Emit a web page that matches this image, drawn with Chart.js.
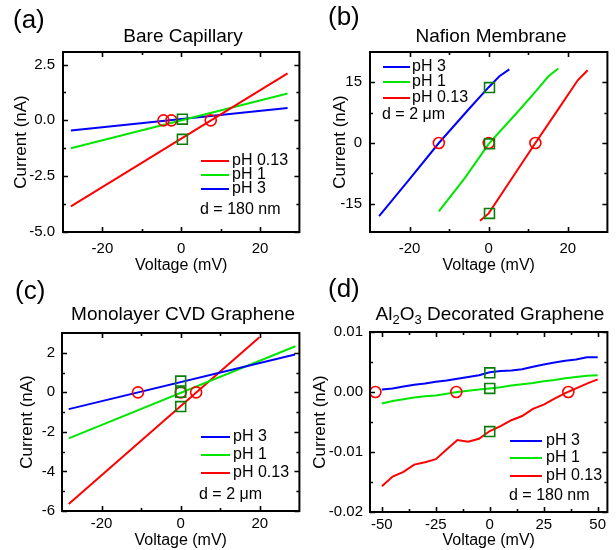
<!DOCTYPE html>
<html><head><meta charset="utf-8">
<script src="https://cdn.jsdelivr.net/npm/chart.js@4.4.1/dist/chart.umd.min.js"></script>
<style>
html,body{margin:0;padding:0;background:#fff;}
body{width:616px;height:550px;position:relative;overflow:hidden;}
canvas{position:absolute;}
</style></head>
<body>
<canvas id="ca" width="308" height="275" style="left:0;top:0"></canvas>
<canvas id="cb" width="308" height="275" style="left:308px;top:0"></canvas>
<canvas id="cc" width="308" height="275" style="left:0;top:275px"></canvas>
<canvas id="cd" width="308" height="275" style="left:308px;top:275px"></canvas>
<script>
// ---------- (a) Bare Capillary ----------
const aVoltRed = [-28, 27];
const aCurRed = [-3.85, 2.1];
const aVoltGreen = [-28, 27];
const aCurGreen = [-1.25, 1.2];
const aVoltBlue = [-28, 27];
const aCurBlue = [-0.45, 0.55];
const aCircleV = [-4.5, -2.5, 7.5];
const aCircleI = [0, 0, 0];
const aSquareV = [0.3, 0.3];
const aSquareI = [0.05, -0.85];
const aXTicks = [-20, 0, 20];
const aXLabels = ['-20', '0', '20'];
const aXMinor = [-10, 10];
const aYTicks = [-5, -2.5, 0, 2.5];
const aYLabels = ['-5.0', '-2.5', '0.0', '2.5'];
const aYMinor = [-3.75, -1.25, 1.25];

// ---------- (b) Nafion Membrane ----------
const bVoltBlue = [-27.7, -20, -12.6, -5, 0, 2.7, 5.2];
const bCurBlue = [-18.1, -8.9, 0, 8.4, 13.8, 16.5, 18.2];
const bVoltGreen = [-12.6, -6, 0, 7.7, 12, 15.1, 17.6];
const bCurGreen = [-16.9, -8.6, -0.2, 8.1, 12.9, 16.5, 18.4];
const bVoltRed = [-2.2, 0, 5, 11.8, 17, 22.5, 25];
const bCurRed = [-19.2, -17.4, -10.0, 0, 7.5, 15.5, 18];
const bCircleV = [-12.6, 0, 11.8];
const bCircleI = [0, 0, 0];
const bSquareV = [0.2, 0.2, 0.2];
const bSquareI = [13.7, -0.2, -17.4];
const bXTicks = [-20, 0, 20];
const bXLabels = ['-20', '0', '20'];
const bXMinor = [-10, 10];
const bYTicks = [-15, 0, 15];
const bYLabels = ['-15', '0', '15'];
const bYMinor = [-7.5, 7.5];

// ---------- (c) Monolayer CVD Graphene ----------
const cVoltBlue = [-28.3, 28.9];
const cCurBlue = [-0.85, 1.91];
const cVoltGreen = [-28.3, 29];
const cCurGreen = [-2.33, 2.33];
const cVoltRed = [-28.3, 19.9];
const cCurRed = [-5.65, 2.79];
const cCircleV = [-10.8, 0, 3.9];
const cCircleI = [0, 0, 0];
const cSquareV = [0, 0, 0];
const cSquareI = [0.57, 0, -0.72];
const cXTicks = [-20, 0, 20];
const cXLabels = ['-20', '0', '20'];
const cXMinor = [-10, 10];
const cYTicks = [-6, -4, -2, 0, 2];
const cYLabels = ['-6', '-4', '-2', '0', '2'];
const cYMinor = [-5, -3, -1, 1];

// ---------- (d) Al2O3 Decorated Graphene ----------
const dVolt = [-50, -45, -40, -35, -30, -25, -20, -15, -10, -5, 0, 5, 10, 15, 20, 25, 30, 35, 40, 45, 50];
const dCurBlue = [0.0004, 0.0006, 0.0009, 0.0012, 0.0014, 0.0017, 0.0019, 0.0022, 0.0025, 0.0028, 0.0033, 0.0035, 0.0036, 0.0038, 0.0042, 0.0046, 0.0049, 0.0052, 0.0054, 0.0058, 0.0058];
const dCurGreen = [-0.0019, -0.0015, -0.0012, -0.0009, -0.0007, -0.0006, -0.0003, 0.0000, 0.0002, 0.0004, 0.0006, 0.0008, 0.0011, 0.0013, 0.0015, 0.0018, 0.0020, 0.0023, 0.0025, 0.0027, 0.0028];
const dCurRed = [-0.0157, -0.0141, -0.0133, -0.0121, -0.0117, -0.0112, -0.0096, -0.0080, -0.0083, -0.0078, -0.0065, -0.0057, -0.0047, -0.0040, -0.0028, -0.0021, -0.0011, -0.0002, 0.0006, 0.0014, 0.0021];
const dCircleV = [-53, -15.5, 36.4];
const dCircleI = [0, 0, 0];
const dSquareV = [0, 0, 0];
const dSquareI = [0.0032, 0.0006, -0.0066];
const dXTicks = [-50, -25, 0, 25, 50];
const dXLabels = ['-50', '-25', '0', '25', '50'];
const dXMinor = [-37.5, -12.5, 12.5, 37.5];
const dYTicks = [-0.02, -0.01, 0, 0.01];
const dYLabels = ['-0.02', '-0.01', '0.00', '0.01'];
const dYMinor = [-0.015, -0.005, 0.005];

const RED = '#ff0000', GREEN = '#00e600', BLUE = '#0000ff', MARK = '#0a7d0a';
const FONT = "'Liberation Sans', Arial, Helvetica, sans-serif";
Chart.defaults.font.family = FONT;
Chart.defaults.color = '#000';

function pts(v, i) { return v.map((x, k) => ({ x: x, y: i[k] })); }

const panels = [
  { id: 'ca', tag: '(a)', title: [{ t: 'Bare Capillary' }],
    series: [
      { label: 'pH 0.13', color: RED, v: aVoltRed, i: aCurRed },
      { label: 'pH 1', color: GREEN, v: aVoltGreen, i: aCurGreen },
      { label: 'pH 3', color: BLUE, v: aVoltBlue, i: aCurBlue }],
    circ: [aCircleV, aCircleI], sq: [aSquareV, aSquareI],
    xr: [-30, 30], yr: [-5, 3.06],
    xT: aXTicks, xL: aXLabels, xM: aXMinor, yT: aYTicks, yL: aYLabels, yM: aYMinor,
    note: 'd = 180 nm',
    L: { yW: 63, xH: 43, top: 52, right: 2, yPad: 8, xPad: 8, xTitlePad: 6, yTitlePad: 11,
         tagX: 13, tagY: 21, titleX: 183, titleY: 37,
         legX0: 201, legX1: 229, legTX: 232, legY: [161, 175, 189], noteX: 200, noteY: 210 } },
  { id: 'cb', tag: '(b)', title: [{ t: 'Nafion Membrane' }],
    series: [
      { label: 'pH 3', color: BLUE, v: bVoltBlue, i: bCurBlue },
      { label: 'pH 1', color: GREEN, v: bVoltGreen, i: bCurGreen },
      { label: 'pH 0.13', color: RED, v: bVoltRed, i: bCurRed }],
    circ: [bCircleV, bCircleI], sq: [bSquareV, bSquareI],
    xr: [-30, 30], yr: [-22, 22.5],
    xT: bXTicks, xL: bXLabels, xM: bXMinor, yT: bYTicks, yL: bYLabels, yM: bYMinor,
    note: 'd = 2 \u03bcm',
    L: { yW: 62, xH: 43, top: 52, right: 4, yPad: 8, xPad: 8, xTitlePad: 5, yTitlePad: 22,
         tagX: 20, tagY: 18, titleX: 183, titleY: 37,
         legX0: 75, legX1: 102, legTX: 104, legY: [67, 82, 98], noteX: 74, noteY: 115 } },
  { id: 'cc', tag: '(c)', title: [{ t: 'Monolayer CVD Graphene' }],
    series: [
      { label: 'pH 3', color: BLUE, v: cVoltBlue, i: cCurBlue },
      { label: 'pH 1', color: GREEN, v: cVoltGreen, i: cCurGreen },
      { label: 'pH 0.13', color: RED, v: cVoltRed, i: cCurRed }],
    circ: [cCircleV, cCircleI], sq: [cSquareV, cSquareI],
    xr: [-30, 30], yr: [-6, 3],
    xT: cXTicks, xL: cXLabels, xM: cXMinor, yT: cYTicks, yL: cYLabels, yM: cYMinor,
    note: 'd = 2 \u03bcm',
    L: { yW: 62, xH: 39, top: 58, right: 4, yPad: 7, xPad: 4, xTitlePad: 1, yTitlePad: 17,
         tagX: 15, tagY: 17, titleX: 183, titleY: 40,
         legX0: 201, legX1: 230, legTX: 233, legY: [162, 180, 198], noteX: 199, noteY: 220 } },
  { id: 'cd', tag: '(d)', title: [{ t: 'Al' }, { t: '2', sub: true }, { t: 'O' }, { t: '3', sub: true }, { t: ' Decorated Graphene' }],
    series: [
      { label: 'pH 3', color: BLUE, v: dVolt, i: dCurBlue },
      { label: 'pH 1', color: GREEN, v: dVolt, i: dCurGreen },
      { label: 'pH 0.13', color: RED, v: dVolt, i: dCurRed }],
    circ: [dCircleV, dCircleI], sq: [dSquareV, dSquareI],
    xr: [-55.5, 54.5], yr: [-0.02, 0.01],
    xT: dXTicks, xL: dXLabels, xM: dXMinor, yT: dYTicks, yL: dYLabels, yM: dYMinor,
    note: 'd = 180 nm',
    L: { yW: 62, xH: 38, top: 57, right: 4, yPad: 7, xPad: 4, xTitlePad: 0, yTitlePad: 2,
         tagX: 20, tagY: 15, titleX: 182, titleY: 40,
         legX0: 202, legX1: 234, legTX: 238, legY: [166, 183, 201], noteX: 201, noteY: 221 } }
];

function labelFor(list, labels, v) {
  for (let k = 0; k < list.length; k++) if (Math.abs(list[k] - v) < 1e-9) return labels[k];
  return '';
}

function decorPlugin(P) {
  const L = P.L;
  return {
    id: 'decor' + P.id,
    afterDatasetsDraw(chart) {
      const ctx = chart.ctx, a = chart.chartArea, xs = chart.scales.x, ys = chart.scales.y;
      ctx.save();
      ctx.strokeStyle = '#000';
      ctx.lineWidth = 1.6;
      ctx.beginPath();
      const tick = (vals, len) => {
        vals.forEach(v => {
          const px = Math.round(xs.getPixelForValue(v)) + 0.5;
          ctx.moveTo(px, a.bottom); ctx.lineTo(px, a.bottom - len);
          ctx.moveTo(px, a.top); ctx.lineTo(px, a.top + len);
        });
      };
      const tickY = (vals, len) => {
        vals.forEach(v => {
          const py = Math.round(ys.getPixelForValue(v)) + 0.5;
          ctx.moveTo(a.left, py); ctx.lineTo(a.left + len, py);
          ctx.moveTo(a.right, py); ctx.lineTo(a.right - len, py);
        });
      };
      tick(P.xT, 5); tick(P.xM, 3); tickY(P.yT, 5); tickY(P.yM, 3);
      ctx.stroke();
      ctx.lineWidth = 2;
      ctx.strokeRect(a.left, a.top, a.right - a.left, a.bottom - a.top);
      ctx.restore();
    },
    afterDraw(chart) {
      const ctx = chart.ctx;
      ctx.save();
      ctx.fillStyle = '#000';
      ctx.textBaseline = 'middle';
      // panel tag
      ctx.font = '26px ' + FONT;
      ctx.textAlign = 'left';
      ctx.fillText(P.tag, L.tagX, L.tagY);
      // title with optional subscripts
      const big = '19px ' + FONT, small = '13px ' + FONT;
      let w = 0;
      P.title.forEach(s => { ctx.font = s.sub ? small : big; w += ctx.measureText(s.t).width; });
      let x = L.titleX - w / 2;
      P.title.forEach(s => {
        ctx.font = s.sub ? small : big;
        ctx.fillText(s.t, x, L.titleY + (s.sub ? 5 : 0));
        x += ctx.measureText(s.t).width;
      });
      // legend
      ctx.font = '16px ' + FONT;
      P.series.forEach((s, k) => {
        const y = L.legY[k];
        ctx.strokeStyle = s.color; ctx.lineWidth = 2;
        ctx.beginPath(); ctx.moveTo(L.legX0, y); ctx.lineTo(L.legX1, y); ctx.stroke();
        ctx.fillText(s.label, L.legTX, y);
      });
      ctx.fillText(P.note, L.noteX, L.noteY);
      ctx.restore();
    }
  };
}

panels.forEach(P => {
  const L = P.L;
  const datasets = [];
  datasets.push({ data: pts(P.sq[0], P.sq[1]), showLine: false, pointStyle: 'rect', pointRadius: 7,
    pointBorderWidth: 1.6, pointBorderColor: MARK, pointBackgroundColor: 'rgba(0,0,0,0)', order: 0 });
  datasets.push({ data: pts(P.circ[0], P.circ[1]), showLine: false, pointStyle: 'circle', pointRadius: 5.5,
    pointBorderWidth: 1.6, pointBorderColor: RED, pointBackgroundColor: 'rgba(0,0,0,0)', order: 1 });
  P.series.forEach((s, k) => datasets.push({
    label: s.label, data: pts(s.v, s.i), showLine: true, borderColor: s.color, backgroundColor: s.color,
    borderWidth: 2, pointRadius: 0, tension: 0, fill: false, order: 2 + k }));
  new Chart(document.getElementById(P.id), {
    type: 'scatter',
    data: { datasets: datasets },
    options: {
      responsive: false, animation: false, devicePixelRatio: 1,
      layout: { padding: { top: L.top, right: L.right, left: 0, bottom: 0 } },
      plugins: { legend: { display: false }, tooltip: { enabled: false }, title: { display: false } },
      scales: {
        x: {
          type: 'linear', min: P.xr[0], max: P.xr[1],
          afterBuildTicks: s => { s.ticks = P.xT.map(v => ({ value: v })); },
          afterFit: s => { s.height = L.xH; },
          ticks: { callback: v => labelFor(P.xT, P.xL, v), padding: L.xPad, font: { size: 15 }, color: '#000',
                   maxRotation: 0, autoSkip: false },
          grid: { display: false, drawTicks: false }, border: { display: false },
          title: { display: true, text: 'Voltage (mV)', font: { size: 16 }, color: '#000',
                   padding: { top: L.xTitlePad, bottom: 0 } }
        },
        y: {
          type: 'linear', min: P.yr[0], max: P.yr[1],
          afterBuildTicks: s => { s.ticks = P.yT.map(v => ({ value: v })); },
          afterFit: s => { s.width = L.yW; },
          ticks: { callback: v => labelFor(P.yT, P.yL, v), padding: L.yPad, font: { size: 15 }, color: '#000',
                   autoSkip: false },
          grid: { display: false, drawTicks: false }, border: { display: false },
          title: { display: true, text: 'Current (nA)', font: { size: 17 }, color: '#000',
                   padding: { top: L.yTitlePad, bottom: 0 } }
        }
      }
    },
    plugins: [decorPlugin(P)]
  });
});
</script>
</body></html>
